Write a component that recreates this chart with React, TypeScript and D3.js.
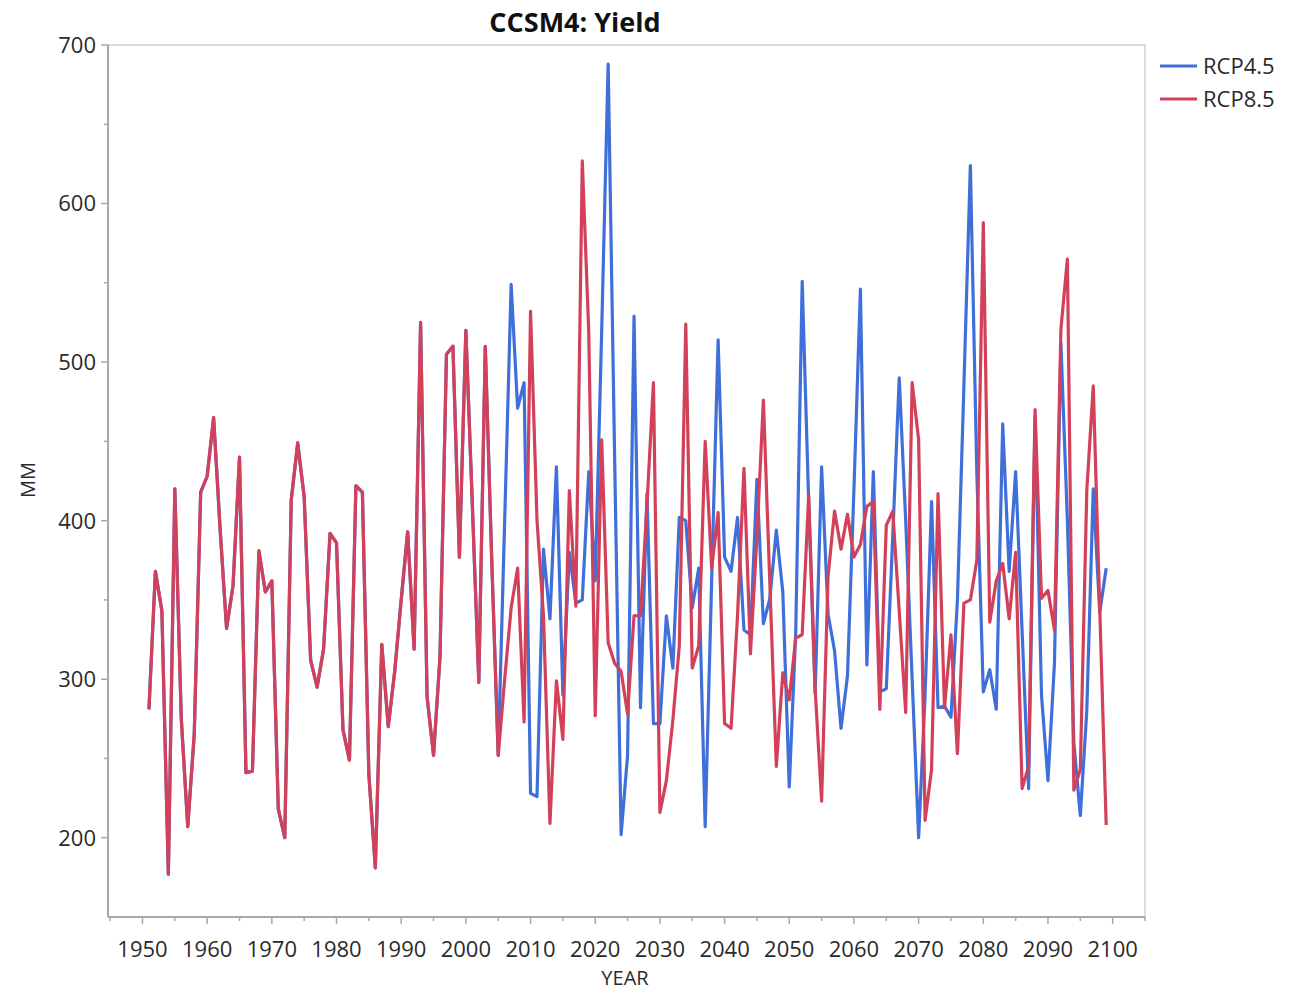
import React from "react";
import * as d3 from "d3";

const histYears: number[] = d3.range(1951, 2006);
const histValues: number[] = [
  281, 368, 343, 177, 420, 275, 207, 265, 418, 428,
  465, 395, 332, 359, 440, 241, 242, 381, 355, 362,
  218, 200, 413, 449, 415, 312, 295, 319, 392, 386,
  268, 249, 422, 418, 240, 181, 322, 270, 305, 350,
  393, 319, 525, 289, 252, 314, 505, 510, 377, 520,
  410, 298, 510, 375, 252,
];

const futureYears: number[] = d3.range(2006, 2100);
const rcp45Values: number[] = [
  400, 549, 471, 487, 228, 226, 382, 338, 434, 290,
  380, 348, 350, 431, 362, 520, 688, 440, 202, 252,
  529, 282, 417, 272, 272, 340, 307, 402, 400, 345,
  370, 207, 362, 514, 377, 368, 402, 331, 328, 426,
  335, 351, 394, 355, 232, 330, 551, 412, 291, 434,
  341, 318, 269, 302, 420, 546, 309, 431, 292, 294,
  390, 490, 400, 300, 200, 290, 412, 282, 283, 276,
  350, 485, 624, 430, 292, 306, 281, 461, 368, 431,
  330, 231, 465, 290, 236, 310, 512, 400, 260, 214,
  280, 420, 342, 370,
];
const rcp85Values: number[] = [
  300, 345, 370, 273, 532, 400, 340, 209, 299, 262,
  419, 346, 627, 519, 277, 451, 323, 310, 305, 278,
  340, 340, 410, 487, 216, 236, 274, 321, 524, 307,
  321, 450, 370, 405, 272, 269, 340, 433, 316, 390,
  476, 360, 245, 304, 287, 326, 328, 416, 294, 223,
  365, 406, 382, 404, 377, 385, 409, 412, 281, 397,
  406, 343, 279, 487, 451, 211, 243, 417, 282, 328,
  253, 348, 350, 375, 588, 336, 362, 373, 338, 380,
  231, 245, 470, 351, 356, 331, 521, 565, 230, 243,
  419, 485, 345, 208,
];

const seriesNames: string[] = ["RCP4.5", "RCP8.5"];
const seriesColors: string[] = ["#3f6fd9", "#d2405a"];
const xTickValues: number[] = d3.range(1950, 2101, 10);
const xMinorTicks: number[] = d3.range(1945, 2106, 10);
const yTickValues: number[] = [200, 300, 400, 500, 600, 700];
const yMinorTicks: number[] = [250, 350, 450, 550, 650];

const W = 1291;
const H = 993;
const L = 108, T = 45, R = 1145, B = 917;
const FONT = "'Open Sans', 'Noto Sans', sans-serif";

export default function App() {
  const x = d3.scaleLinear().domain([1944.67, 2105.0]).range([L, R]);
  const y = d3.scaleLinear().domain([150, 700]).range([B, T]);

  const years = [...histYears, ...futureYears];
  const vals45 = [...histValues, ...rcp45Values];
  const vals85 = [...histValues, ...rcp85Values];

  const line = d3
    .line<[number, number]>()
    .x((d) => x(d[0]))
    .y((d) => y(d[1]));

  const path45 = line(years.map((yr, i) => [yr, vals45[i]]) as [number, number][]) || "";
  const path85 = line(years.map((yr, i) => [yr, vals85[i]]) as [number, number][]) || "";

  const textColor = "#2a2a2a";
  const axisColor = "#a8a8a8";

  return (
    <div style={{ position: "absolute", left: 0, top: 0 }}>
      <svg width={W} height={H} style={{ display: "block", background: "#fff" }}>
        <text x={575} y={32} textAnchor="middle" fontFamily={FONT} fontWeight={700} fontSize={27} fill="#111">
          CCSM4: Yield
        </text>

        <rect x={L} y={T} width={R - L} height={B - T} fill="none" stroke="#d0d0d0" strokeWidth={1.5} />
        <line x1={L} x2={L} y1={T} y2={B} stroke={axisColor} strokeWidth={2} />
        <line x1={L} x2={R} y1={B} y2={B} stroke={axisColor} strokeWidth={2} />

        {yTickValues.map((v) => (
          <g key={"yt" + v}>
            <line x1={L - 7} x2={L} y1={y(v)} y2={y(v)} stroke={axisColor} strokeWidth={1.5} />
            <text x={96} y={y(v)} dy="0.36em" textAnchor="end" fontFamily={FONT} fontSize={22} fill={textColor}>
              {v}
            </text>
          </g>
        ))}
        {yMinorTicks.map((v) => (
          <line key={"ym" + v} x1={L - 4} x2={L} y1={y(v)} y2={y(v)} stroke={axisColor} strokeWidth={1.5} />
        ))}

        {xTickValues.map((v) => (
          <g key={"xt" + v}>
            <line x1={x(v)} x2={x(v)} y1={B} y2={B + 7} stroke={axisColor} strokeWidth={1.5} />
            <text x={x(v)} y={957} textAnchor="middle" fontFamily={FONT} fontSize={22} fill={textColor}>
              {v}
            </text>
          </g>
        ))}
        {xMinorTicks.map((v) => (
          <line key={"xm" + v} x1={x(v)} x2={x(v)} y1={B} y2={B + 4} stroke={axisColor} strokeWidth={1.5} />
        ))}

        <text x={625} y={985} textAnchor="middle" fontFamily={FONT} fontSize={20} fill={textColor}>
          YEAR
        </text>
        <text
          transform={`translate(35, 480) rotate(-90)`}
          textAnchor="middle"
          fontFamily={FONT}
          fontSize={20}
          fill={textColor}
        >
          MM
        </text>

        <path d={path45} fill="none" stroke={seriesColors[0]} strokeWidth={3.2} strokeLinejoin="round" />
        <path d={path85} fill="none" stroke={seriesColors[1]} strokeWidth={3.2} strokeLinejoin="round" />

        {seriesNames.map((name, i) => (
          <g key={name}>
            <line x1={1160} x2={1197} y1={66 + i * 33} y2={66 + i * 33} stroke={seriesColors[i]} strokeWidth={3.2} />
            <text x={1203} y={66 + i * 33} dy="0.36em" fontFamily={FONT} fontSize={22} fill={textColor}>
              {name}
            </text>
          </g>
        ))}
      </svg>
    </div>
  );
}
